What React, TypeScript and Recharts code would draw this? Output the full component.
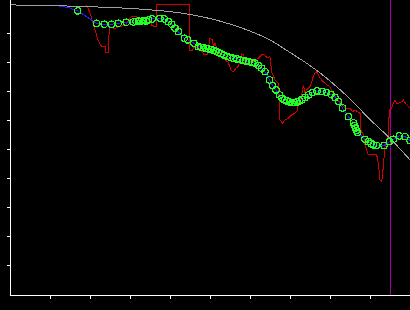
import { LineChart, Line, XAxis, YAxis, ReferenceLine } from "recharts";

// axis ticks (no labels on this chart)
const xTicks = [1, 2, 3, 4, 5, 6, 7, 8, 9];
const yTicks = [1, 2, 3, 4, 5, 6, 7, 8, 9];

// grey envelope curve
const guideX = [0, 0.5, 1, 1.5, 2, 2.5, 3, 3.5, 4, 4.5, 5, 5.5, 6, 6.5, 7, 7.5, 8, 8.5, 9, 9.5, 10];
const guideY = [10.0, 9.99, 9.98, 9.96, 9.94, 9.91, 9.88, 9.83, 9.77, 9.67, 9.53, 9.34, 9.1, 8.79, 8.36, 7.91, 7.38, 6.76, 6.05, 5.4, 4.66];

// red raw signal
const rawX = [
  1.918, 2.0, 2.125, 2.2, 2.288, 2.388, 2.4, 2.463, 2.47, 2.483, 2.625, 2.7, 2.8, 2.9, 3.0, 3.05, 3.163, 3.175,
  3.275, 3.4, 3.5, 3.538, 3.625, 3.663, 3.675, 4.475, 4.475, 4.55, 4.588, 4.675, 4.775, 4.85, 4.925, 5.0, 5.05,
  5.088, 5.125, 5.2, 5.25, 5.325, 5.45, 5.538, 5.588, 5.65, 5.713, 5.788, 5.833, 5.875, 5.958, 6.083, 6.208,
  6.293, 6.375, 6.425, 6.5, 6.543, 6.625, 6.708, 6.75, 6.813, 6.875, 6.958, 7.043, 7.125, 7.175, 7.208, 7.25,
  7.293, 7.333, 7.375, 7.418, 7.5, 7.543, 7.583, 7.625, 7.668, 7.708, 7.75, 7.833, 7.918, 8.0, 8.083, 8.168,
  8.25, 8.333, 8.418, 8.5, 8.568, 8.625, 8.75, 8.768, 8.833, 8.875, 8.958, 9.168, 9.208, 9.25, 9.293, 9.333,
  9.375, 9.418, 9.458, 9.483, 9.543, 9.583, 9.625, 9.668, 9.708, 9.793, 9.833, 9.918, 10.0,
];
const rawY = [
  10.0, 9.724, 9.138, 8.793, 8.569, 8.569, 8.345, 8.345, 8.793, 9.241, 9.19, 9.241, 9.276, 9.31, 9.552, 9.603,
  9.603, 9.379, 9.345, 9.414, 9.483, 9.31, 9.241, 9.276, 10.0, 10.0, 8.414, 8.414, 8.517, 8.552, 8.448, 8.276,
  8.276, 8.845, 8.81, 8.569, 8.672, 8.448, 8.241, 8.155, 8.034, 7.724, 7.69, 7.828, 7.879, 8.328, 8.276, 8.017,
  8.045, 8.045, 8.162, 8.276, 8.276, 8.172, 8.217, 7.69, 7.414, 7.3, 6.034, 5.931, 6.034, 6.093, 6.207, 6.266,
  6.345, 6.724, 6.724, 6.897, 7.241, 6.955, 7.069, 7.183, 7.355, 7.528, 7.645, 7.7, 7.586, 7.472, 7.355, 7.241,
  7.183, 6.955, 6.724, 6.666, 6.493, 6.438, 6.438, 6.321, 6.379, 6.266, 5.69, 5.517, 5.172, 4.828, 4.828, 4.541,
  3.966, 3.907, 4.424, 5.114, 5.345, 5.517, 6.379, 6.438, 6.61, 6.724, 6.61, 6.61, 6.666, 6.724, 6.552, 6.438,
];

// blue track with green sample circles (first few points carry no marker)
const trackX = [
  0.575, 1.2, 1.45, 1.693, 2.163, 2.355, 2.538, 2.708, 2.905, 3.088, 3.15, 3.213, 3.275, 3.338, 3.4, 3.463,
  3.558, 3.75, 3.858, 3.958, 4.043, 4.125, 4.208, 4.358, 4.443, 4.6, 4.708, 4.775, 4.838, 4.9, 4.963, 5.025,
  5.088, 5.15, 5.213, 5.275, 5.35, 5.425, 5.5, 5.583, 5.675, 5.75, 5.825, 5.9, 5.975, 6.05, 6.125, 6.213, 6.293,
  6.375, 6.488, 6.563, 6.65, 6.738, 6.8, 6.863, 6.925, 6.988, 7.05, 7.113, 7.175, 7.238, 7.3, 7.375, 7.463,
  7.563, 7.675, 7.8, 7.913, 8.025, 8.125, 8.213, 8.313, 8.458, 8.588, 8.613, 8.638, 8.663, 8.688, 8.875, 8.958,
  9.025, 9.083, 9.168, 9.35, 9.483, 9.583, 9.733, 9.875, 10.0,
];
const trackY = [
  9.983, 9.966, 9.914, 9.793, 9.369, 9.334, 9.334, 9.369, 9.403, 9.414, 9.431, 9.448, 9.431, 9.466, 9.448, 9.483,
  9.517, 9.541, 9.517, 9.424, 9.334, 9.197, 9.079, 8.852, 8.793, 8.679, 8.562, 8.541, 8.524, 8.507, 8.483, 8.466,
  8.438, 8.407, 8.369, 8.317, 8.269, 8.224, 8.19, 8.162, 8.138, 8.11, 8.086, 8.062, 8.041, 8.017, 7.99, 7.914,
  7.817, 7.7, 7.414, 7.224, 7.069, 6.897, 6.783, 6.724, 6.69, 6.655, 6.638, 6.638, 6.655, 6.69, 6.741, 6.81,
  6.897, 6.983, 7.034, 7.017, 6.983, 6.914, 6.81, 6.672, 6.448, 6.148, 5.931, 5.845, 5.759, 5.672, 5.603, 5.369,
  5.286, 5.224, 5.172, 5.155, 5.155, 5.286, 5.369, 5.483, 5.459, 5.328,
];
const markerFrom = 3;

const cursorX = 9.5;

const guide = guideX.map((x, i) => ({ x, y: guideY[i] }));
const raw = rawX.map((x, i) => ({ x, y: rawY[i] }));
const track = trackX.map((x, i) => ({ x, y: trackY[i] }));

function TrackDot(props: any) {
  const { cx, cy, index } = props;
  if (index < markerFrom) return <g key={`t${index}`} />;
  return <circle key={`t${index}`} cx={cx} cy={cy} r={3.2} fill="none" stroke="#22ff22" strokeWidth={1.2} />;
}

// keep the tick marks but draw no labels
const NoLabel = () => <g />;

export default function App() {
  return (
    <div style={{ position: "absolute", left: 0, top: 0, width: 410, height: 310, background: "#000" }}>
      <style>{`.recharts-surface * { shape-rendering: crispEdges; }`}</style>
      <LineChart width={410} height={310} margin={{ top: 0, right: 0, bottom: 0, left: 0 }}>
        <XAxis
          type="number"
          dataKey="x"
          domain={[0, 10]}
          ticks={xTicks}
          allowDataOverflow
          height={15}
          tick={NoLabel}
          tickSize={4}
          tickLine={{ stroke: "#fff" }}
          axisLine={{ stroke: "#fff" }}
          stroke="#fff"
        />
        <YAxis
          type="number"
          domain={[0, 10.17]}
          ticks={yTicks}
          allowDataOverflow
          width={10}
          tick={NoLabel}
          tickSize={3}
          tickLine={{ stroke: "#fff" }}
          axisLine={{ stroke: "#fff" }}
          stroke="#fff"
        />
        <ReferenceLine x={cursorX} stroke="#a000a0" strokeWidth={1} />
        <Line
          data={raw}
          dataKey="y"
          type="linear"
          stroke="#d00000"
          strokeWidth={1}
          dot={false}
          activeDot={false}
          isAnimationActive={false}
        />
        <Line
          data={track}
          dataKey="y"
          type="linear"
          stroke="#1f1fff"
          strokeWidth={1}
          dot={TrackDot}
          activeDot={false}
          isAnimationActive={false}
        />
        <Line
          data={guide}
          dataKey="y"
          type="monotone"
          stroke="#a0a0a0"
          strokeWidth={1}
          dot={false}
          activeDot={false}
          isAnimationActive={false}
        />
      </LineChart>
    </div>
  );
}
